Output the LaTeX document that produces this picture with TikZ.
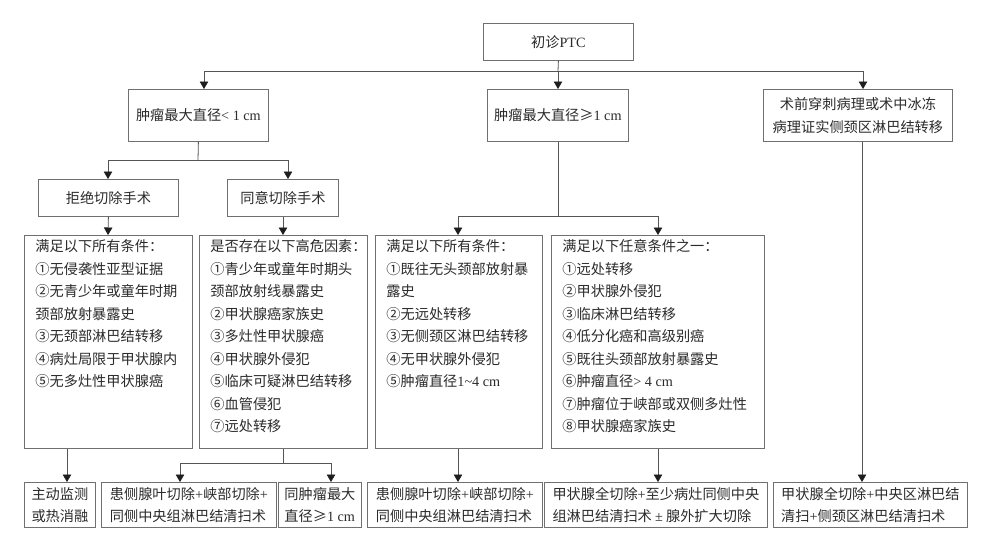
\documentclass[tikz,border=0pt]{standalone}
\usepackage{fontspec}
\setmainfont{Noto Sans CJK SC}
\newfontfamily\lat{Liberation Serif}
\usetikzlibrary{arrows.meta}
\definecolor{lnc}{HTML}{555555}
\definecolor{bxc}{HTML}{707070}
\definecolor{txc}{HTML}{2B2B2B}
\definecolor{tipc}{HTML}{1E1E1E}
\newcommand\myfs{\fontsize{14.2pt}{22.5pt}\selectfont}
\newcommand\dtext[3]{\parbox[t][#2][t]{#1}{\raggedright\leftskip=11pt\rule{0pt}{16.5pt}#3}}
\begin{document}
\begin{tikzpicture}[x=1pt,y=-1pt,
  box/.style={draw=bxc, line width=0.8pt, inner sep=0pt, anchor=north west, font=\myfs, text=txc},
  ln/.style={draw=lnc, line width=0.8pt},
  arr/.style={ln, -{Triangle[width=8.5pt,length=7.5pt,color=tipc]}}]
\useasboundingbox (0,0) rectangle (1000,541);
\fill[white] (0,0) rectangle (1000,541);
% top
\node[box, minimum width=150pt, minimum height=37pt] (A) at (483,23) {初诊{\lat PTC}};
% level B
\node[box, minimum width=140pt, minimum height=52pt] (B1) at (128,89) {肿瘤最大直径{\lat < 1 cm}};
\node[box, minimum width=141pt, minimum height=52pt] (B2) at (487,89) {肿瘤最大直径≥{\lat 1 cm}};
\node[box, minimum width=189pt, minimum height=52pt, align=center] (B3) at (763,89) {术前穿刺病理或术中冰冻\\病理证实侧颈区淋巴结转移};
% level C
\node[box, minimum width=140pt, minimum height=37pt] (C1) at (38,179) {拒绝切除手术};
\node[box, minimum width=111pt, minimum height=37pt] (C2) at (227,179) {同意切除手术};
% level D
\node[box] (D1) at (24,235) {\dtext{168pt}{213pt}{满足以下所有条件：\\①无侵袭性亚型证据\\②无青少年或童年时期\\颈部放射暴露史\\③无颈部淋巴结转移\\④病灶局限于甲状腺内\\⑤无多灶性甲状腺癌}};
\node[box] (D2) at (199,235) {\dtext{168pt}{213pt}{是否存在以下高危因素：\\①青少年或童年时期头\\颈部放射线暴露史\\②甲状腺癌家族史\\③多灶性甲状腺癌\\④甲状腺外侵犯\\⑤临床可疑淋巴结转移\\⑥血管侵犯\\⑦远处转移}};
\node[box] (D3) at (375,235) {\dtext{167pt}{213pt}{满足以下所有条件：\\①既往无头颈部放射暴\\露史\\②无远处转移\\③无侧颈区淋巴结转移\\④无甲状腺外侵犯\\⑤肿瘤直径{\lat 1\textasciitilde4 cm}}};
\node[box] (D4) at (551,235) {\dtext{213pt}{213pt}{满足以下任意条件之一：\\①远处转移\\②甲状腺外侵犯\\③临床淋巴结转移\\④低分化癌和高级别癌\\⑤既往头颈部放射暴露史\\⑥肿瘤直径{\lat > 4 cm}\\⑦肿瘤位于峡部或双侧多灶性\\⑧甲状腺癌家族史}};
% level E
\node[box, minimum width=71pt, minimum height=45pt, align=left] (E1) at (24,482) {主动监测\\或热消融};
\node[box, minimum width=175pt, minimum height=45pt, align=left] (E2) at (101,482) {患侧腺叶切除{\lat +}峡部切除{\lat +}\\同侧中央组淋巴结清扫术};
\node[box, minimum width=83pt, minimum height=45pt, align=left] (E3) at (278,482) {同肿瘤最大\\直径≥{\lat 1 cm}};
\node[box, minimum width=175pt, minimum height=45pt, align=left] (E4) at (367,482) {患侧腺叶切除{\lat +}峡部切除{\lat +}\\同侧中央组淋巴结清扫术};
\node[box, minimum width=223pt, minimum height=45pt, align=left] (E5) at (544,482) {甲状腺全切除{\lat +}至少病灶同侧中央\\组淋巴结清扫术 {\lat ±} 腺外扩大切除};
\node[box, minimum width=194pt, minimum height=45pt, align=left] (E6) at (773,482) {甲状腺全切除{\lat +}中央区淋巴结\\清扫{\lat +}侧颈区淋巴结清扫术};
% connectors
\coordinate (j1) at (558,71);
\draw[ln] (A.south) -- (j1);
\draw[arr] (j1) -| (204,0 |- B1.north);
\draw[arr] (j1) -- (558,0 |- B2.north);
\draw[arr] (j1) -| (863,0 |- B3.north);
\coordinate (j2) at (198,160);
\draw[ln] (B1.south) -- (j2);
\draw[arr] (j2) -| (108,0 |- C1.north);
\draw[arr] (j2) -| (288,0 |- C2.north);
\draw[arr] (C1.south) -- (108,0 |- D1.north);
\draw[arr] (283,0 |- C2.south) -- (283,0 |- D2.north);
\coordinate (j3) at (558,216);
\draw[ln] (558,0 |- B2.south) -- (j3);
\draw[arr] (j3) -| (458,0 |- D3.north);
\draw[arr] (j3) -| (658,0 |- D4.north);
\draw[arr] (862,0 |- B3.south) -- (862,0 |- E6.north);
\draw[arr] (67,0 |- D1.south) -- (67,0 |- E1.north);
\coordinate (j4) at (283,463);
\draw[ln] (283,0 |- D2.south) -- (j4);
\draw[arr] (j4) -| (180,0 |- E2.north);
\draw[arr] (j4) -| (331,0 |- E3.north);
\draw[arr] (458,0 |- D3.south) -- (458,0 |- E4.north);
\draw[arr] (658,0 |- D4.south) -- (658,0 |- E5.north);
\end{tikzpicture}
\end{document}
